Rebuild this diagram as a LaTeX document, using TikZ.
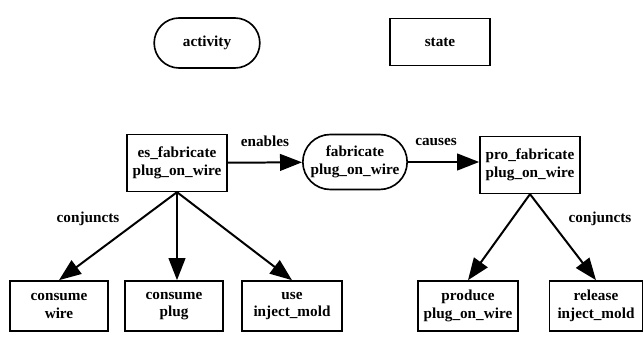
\documentclass[tikz,border=0pt]{standalone}
\usepackage{fontspec}
\setmainfont{Liberation Serif}
\usetikzlibrary{shapes.misc,arrows.meta}
\tikzstyle{evstate}=[rectangle, draw, line width=1.4pt, minimum height=1.7cm, minimum width=3cm, align=center, inner sep=1pt, font=\bfseries\fontsize{13}{15}\selectfont]
\tikzstyle{evactivity}=[rounded rectangle, draw, line width=1.4pt, minimum height=1.65cm, minimum width=3.2cm, align=center, inner sep=1pt, font=\bfseries\fontsize{13}{15}\selectfont]
\tikzstyle{evlabel}=[font=\bfseries\fontsize{13}{15}\selectfont]
\tikzstyle{evarrow}=[line width=1.7pt, -{Triangle[length=0.66cm,width=0.5cm]}]
\newcommand{\evstate}[4][]{
	\node[evstate,#1] (#2) at (#3) {#4};}
\newcommand{\evactivity}[4][]{
	\node[evactivity,#1] (#2) at (#3) {#4};}

\begin{document}
\begin{tikzpicture}[x=0.03cm,y=-0.03cm]
\useasboundingbox (0,0) rectangle (644,339);
% legend
\evactivity[minimum width=3.24cm, minimum height=1.5cm]{legact}{207,43}{activity}
\evstate[minimum height=1.4cm]{legstate}{440,42}{state}
% main chain
\evstate{es}{177,163}{es\_fabricate\\plug\_on\_wire}
\evactivity{fab}{355,162}{fabricate\\plug\_on\_wire}
\evstate{pro}{530,165}{pro\_fabricate\\plug\_on\_wire}
% conjuncts
\evstate[minimum height=1.5cm, minimum width=2.95cm]{cwire}{59,306}{consume\\wire}
\evstate[minimum height=1.5cm, minimum width=2.95cm]{cplug}{174,306}{consume\\plug}
\evstate[minimum height=1.5cm, minimum width=3cm]{umold}{292,306}{use\\inject\_mold}
\evstate[minimum height=1.5cm, minimum width=3cm]{pplug}{468,306}{produce\\plug\_on\_wire}
\evstate[minimum height=1.5cm, minimum width=2.8cm]{rmold}{596,306}{release\\inject\_mold}
\node[evlabel] (enables) at (265,141) {enables};
\node[evlabel] (causes) at (436,142) {causes};
\node[evlabel] (conjl) at (88,219) {conjuncts};
\node[evlabel] (conjr) at (600,219) {conjuncts};
\draw[evarrow] (es) -- (fab);
\draw[evarrow] (fab) -- (fab -| pro.west);
\draw[evarrow] (es.south) -- (cwire.north);
\draw[evarrow] (es.south) -- (cplug.north -| es.south);
\draw[evarrow] (es.south) -- (umold.north);
\draw[evarrow] (pro.south) -- (pplug.north);
\draw[evarrow] (pro.south) -- (rmold.north);
\end{tikzpicture}
\end{document}
